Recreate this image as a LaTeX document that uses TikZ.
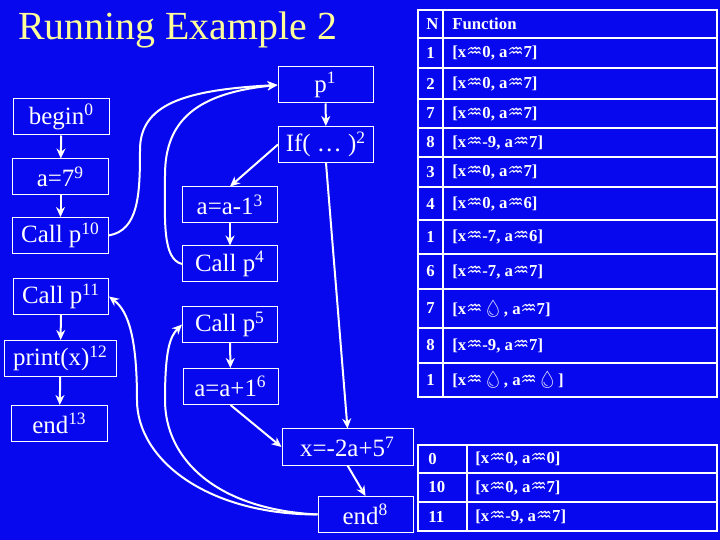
\documentclass[tikz,border=0pt]{standalone}
\usepackage{fontspec}
\setmainfont{Liberation Serif}
\newfontfamily\wavefont{DejaVu Sans}
\newfontfamily\dropfont{Noto Emoji}
\usetikzlibrary{arrows.meta}
\definecolor{slideblue}{RGB}{8,8,238}
\definecolor{titleyellow}{RGB}{255,255,153}
\newcommand\fnto{{\wavefont\fontsize{9}{10}\selectfont ♒}}
\newcommand\fnbot{{\dropfont\fontsize{8.5}{10}\selectfont 💧}}

\begin{document}
\begin{tikzpicture}[x=0.5bp,y=-0.5bp,
  stmt/.style={draw=white,line width=0.5bp,text=white,minimum width=47.5bp,minimum height=18bp,inner sep=0pt,font=\fontsize{12.5}{14}\selectfont},
  flow/.style={white,line width=1bp,-{Stealth[length=5bp,width=4.5bp]}},
  cell/.style={text=white,inner sep=0pt,anchor=west,font=\bfseries\fontsize{8.4}{10}\selectfont},
  grid/.style={white,line width=1bp}]
  \fill[slideblue] (0,0) rectangle (720,540);
  \node[anchor=base west,inner sep=0pt,text=titleyellow,font=\fontsize{20}{23}\selectfont] (title) at (18,40) {Running Example 2};

  % main program
  \node[stmt] (begin) at (61.5,117) {begin\textsuperscript{0}};
  \node[stmt] (a7) at (60.5,177) {a=7\textsuperscript{9}};
  \node[stmt] (callp10) at (60.5,235.5) {Call p\textsuperscript{10}};
  \node[stmt] (callp11) at (61,296.5) {Call p\textsuperscript{11}};
  \node[stmt,minimum width=55.5bp] (print) at (60.5,358.5) {print(x)\textsuperscript{12}};
  \node[stmt] (end13) at (59.5,423.5) {end\textsuperscript{13}};

  % procedure p
  \node[stmt] (p1) at (325.5,85) {p\textsuperscript{1}};
  \node[stmt] (if) at (326,144.5) {If( \dots\ )\textsuperscript{2}};
  \node[stmt] (adec) at (230,205) {a=a-1\textsuperscript{3}};
  \node[stmt] (callp4) at (230,264) {Call p\textsuperscript{4}};
  \node[stmt] (callp5) at (230,324.5) {Call p\textsuperscript{5}};
  \node[stmt] (ainc) at (230.5,386.5) {a=a+1\textsuperscript{6}};
  \node[stmt,minimum width=65.5bp] (xset) at (347.5,447) {x=-2a+5\textsuperscript{7}};
  \node[stmt] (end8) at (365.5,514.5) {end\textsuperscript{8}};

  \draw[flow] (begin) -- (a7);
  \draw[flow] (a7) -- (callp10);
  \draw[flow] (callp11) -- (print);
  \draw[flow] (print) -- (end13);
  \draw[flow] (p1) -- (if);
  \draw[flow] (if.west) -- (adec.north);
  \draw[flow] (adec) -- (callp4);
  \draw[flow] (callp5) -- (ainc);
  \draw[flow] (if.south) -- (xset.north);
  \draw[flow] (ainc.south) -- (xset.west);
  \draw[flow] (xset.south) -- (end8.north);

  % calls and returns
  \draw[flow] (callp10.east) .. controls +(30,-5) and +(0,45) .. (140,150)
    .. controls +(0,-45) and +(-95,5) .. (p1.west);
  \draw[flow] (callp4.west) .. controls +(-20,-5) and +(0,45) .. (165,175)
    .. controls +(0,-55) and +(-80,8) .. (p1.west);
  \draw[flow] (end8.west) .. controls +(-110,0) and +(0,60) .. (137,400)
    .. controls +(0,-60) and +(20,15) .. (callp11.east);
  \draw[flow] (end8.west) .. controls +(-100,-5) and +(0,60) .. (165,400)
    .. controls +(0,-50) and +(-12,12) .. (callp5.west);

  % table of path functions
  \foreach \y in {38,68,99,128,157,187,220,254,289,328,363}
    \draw[grid] (418,\y) -- (717,\y);
  \draw[grid] (418,10) rectangle (717,397);
  \draw[grid] (443,10) -- (443,397);
  \foreach \yc/\num/\txt [count=\i] in {24/N/Function,
      53/1/{[x\fnto0, a\fnto7]}, 83.5/2/{[x\fnto0, a\fnto7]},
      113.5/7/{[x\fnto0, a\fnto7]}, 142.5/8/{[x\fnto-9, a\fnto7]},
      172/3/{[x\fnto0, a\fnto7]}, 203.5/4/{[x\fnto0, a\fnto6]},
      237/1/{[x\fnto-7, a\fnto6]}, 271.5/6/{[x\fnto-7, a\fnto7]},
      308.5/7/{[x\fnto\fnbot, a\fnto7]}, 345.5/8/{[x\fnto-9, a\fnto7]},
      380/1/{[x\fnto\fnbot, a\fnto\fnbot]}}{
    \node[cell] (num\i) at (426,\yc) {\num};
    \node[cell] (fun\i) at (452,\yc) {\txt};
  }

  % table of entry values
  \foreach \y in {473,502}
    \draw[grid] (418,\y) -- (717,\y);
  \draw[grid] (418,445) rectangle (717,531);
  \draw[grid] (467,445) -- (467,531);
  \foreach \yc/\num/\txt [count=\i] in {459/0/{[x\fnto0, a\fnto0]},
      487.5/10/{[x\fnto0, a\fnto7]}, 516.5/11/{[x\fnto-9, a\fnto7]}}{
    \node[cell] (entry\i) at (428,\yc) {\num};
    \node[cell] (val\i) at (475,\yc) {\txt};
  }
\end{tikzpicture}
\end{document}
